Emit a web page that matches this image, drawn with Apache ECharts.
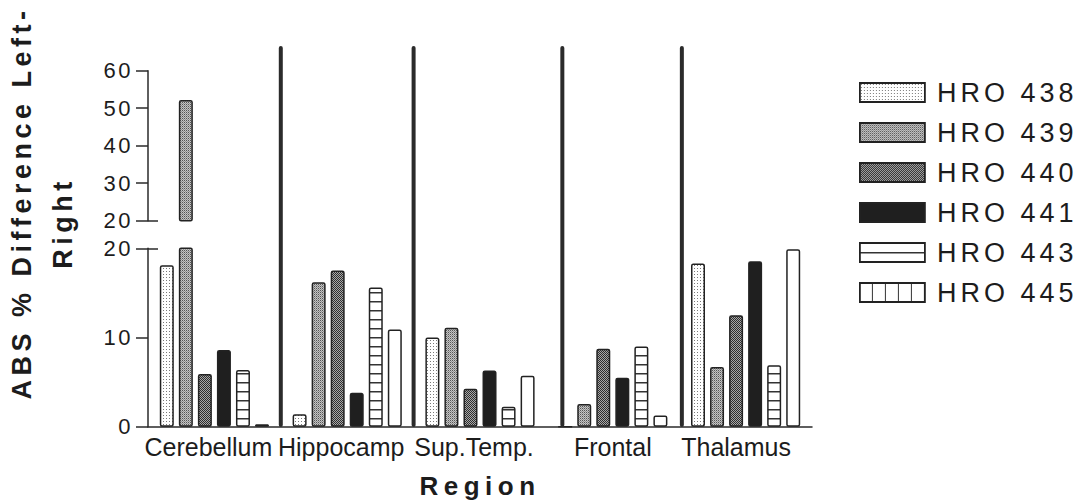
<!DOCTYPE html>
<html>
<head>
<meta charset="utf-8">
<script src="https://cdn.jsdelivr.net/npm/echarts@6/dist/echarts.min.js"></script>
<style>
html,body{margin:0;padding:0;background:#fff;}
#chart{width:1082px;height:503px;}
</style>
</head>
<body>
<div id="chart"></div>
<script>
// ---------------- data ----------------
const categories = ['Cerebellum', 'Hippocamp', 'Sup.Temp.', 'Frontal', 'Thalamus'];
const seriesNames = ['HRO 438', 'HRO 439', 'HRO 440', 'HRO 441', 'HRO 443', 'HRO 445'];
const hro438 = [18.1, 1.4, 10.0, 0, 18.3];
const hro439 = [52.2, 16.2, 11.1, 2.55, 6.7];
const hro440 = [5.9, 17.5, 4.25, 8.75, 12.5];
const hro441 = [8.6, 3.8, 6.3, 5.5, 18.55];
const hro443 = [6.35, 15.6, 2.25, 9.0, 6.9];
const hro445 = [0.27, 10.9, 5.7, 1.25, 19.9];
const lowerRange = [0, 20];
const upperRange = [20, 60];
const tickStep = 10;
const separatorPositions = [1.0, 2.0, 3.12, 4.02]; // in category units
const yTitleLines = ['ABS % Difference Left-', 'Right'];
const xTitle = 'Region';

const allValues = [hro438, hro439, hro440, hro441, hro443, hro445];

// ---------------- styles ----------------
function makePattern(w, h, draw) {
  const c = document.createElement('canvas');
  c.width = w; c.height = h;
  const ctx = c.getContext('2d');
  draw(ctx, w, h);
  return { image: c, repeat: 'repeat' };
}
const pat438 = makePattern(3, 3, (ctx, w, h) => {
  ctx.fillStyle = '#ffffff'; ctx.fillRect(0, 0, w, h);
  ctx.fillStyle = '#7a7a7a'; ctx.fillRect(1, 1, 1, 1);
});
const pat439 = makePattern(2, 2, (ctx, w, h) => {
  ctx.fillStyle = '#c4c4c4'; ctx.fillRect(0, 0, w, h);
  ctx.fillStyle = '#555555'; ctx.fillRect(0, 0, 1, 1);
  ctx.fillStyle = '#909090'; ctx.fillRect(1, 1, 1, 1);
});
const pat440 = makePattern(2, 2, (ctx, w, h) => {
  ctx.fillStyle = '#a8a8a8'; ctx.fillRect(0, 0, w, h);
  ctx.fillStyle = '#2e2e2e'; ctx.fillRect(0, 0, 1, 1); ctx.fillRect(1, 1, 1, 1);
});
const col441 = '#1f1f1f';
const pat443 = makePattern(8, 9, (ctx, w, h) => {
  ctx.fillStyle = '#ffffff'; ctx.fillRect(0, 0, w, h);
  ctx.fillStyle = '#333333'; ctx.fillRect(0, 4, w, 1.5);
});
const col445 = '#ffffff';
const barColors = [pat438, pat439, pat440, col441, pat443, col445];

const legPat443 = makePattern(8, 19, (ctx, w, h) => {
  ctx.fillStyle = '#ffffff'; ctx.fillRect(0, 0, w, h);
  ctx.fillStyle = '#333333'; ctx.fillRect(0, 9, w, 1.5);
});
const legPat445 = makePattern(13, 8, (ctx, w, h) => {
  ctx.fillStyle = '#ffffff'; ctx.fillRect(0, 0, w, h);
  ctx.fillStyle = '#333333'; ctx.fillRect(12, 0, 1.5, h);
});
const legendColors = [pat438, pat439, pat440, col441, legPat443, legPat445];

const FONT = '"Liberation Sans", Arial, sans-serif';
const INK = '#1c1c1c';
const axisLineStyle = { color: '#2a2a2a', width: 1.5 };

// per-label horizontal nudges (right padding shifts centred label left)
const labelPadRight = [12, 12, 12, 0, 19];
const labelRich = {};
labelPadRight.forEach((p, i) => {
  labelRich['c' + i] = { fontSize: 25, color: INK, fontFamily: FONT, padding: [0, p, 0, 0] };
});

// ---------------- option ----------------
const gridLeft = 148, gridRight = 270;
const series = [];
seriesNames.forEach((name, i) => {
  const itemStyle = { color: barColors[i], borderColor: '#222', borderWidth: 1.5, borderRadius: 1.5 };
  series.push({
    name, type: 'bar', xAxisIndex: 0, yAxisIndex: 0,
    data: allValues[i], barWidth: 14, barGap: '36%', itemStyle, clip: true
  });
  series.push({
    name, type: 'bar', xAxisIndex: 1, yAxisIndex: 1,
    data: allValues[i].map(v => (v > upperRange[0] ? v : '-')),
    barWidth: 14, barGap: '36%', itemStyle, clip: true
  });
});
series.push({
  type: 'custom', xAxisIndex: 2, yAxisIndex: 2, silent: true, z: 10,
  data: separatorPositions.map(x => [x, 1]),
  renderItem: (params, api) => {
    const x = api.value(0);
    const p0 = api.coord([x, 0]);
    const p1 = api.coord([x, api.value(1)]);
    return {
      type: 'line',
      shape: { x1: p0[0], y1: p0[1], x2: p1[0], y2: p1[1] },
      style: { stroke: '#2b2b2b', lineWidth: 4, lineCap: 'round' }
    };
  }
});

const valueAxisCommon = {
  type: 'value', interval: tickStep, position: 'left',
  axisLine: { show: true, lineStyle: axisLineStyle },
  axisTick: { show: true, length: 12, lineStyle: axisLineStyle },
  axisLabel: { fontSize: 22, color: INK, fontFamily: FONT, margin: 15 },
  splitLine: { show: false }
};
// small inner tick marks at the break (the "T" ends of the axis)
const breakTickAxis = {
  type: 'value', position: 'left',
  axisLine: { show: false },
  axisLabel: { show: false },
  splitLine: { show: false },
  axisTick: { show: true, inside: true, length: 10, lineStyle: axisLineStyle, customValues: [upperRange[0]] }
};

const option = {
  backgroundColor: '#ffffff',
  animation: false,
  grid: [
    { left: gridLeft, right: gridRight, top: 248.3, bottom: 76.3 },
    { left: gridLeft, right: gridRight, top: 70.7, height: 150 },
    { left: gridLeft, right: gridRight, top: 48, bottom: 78 }
  ],
  xAxis: [
    {
      gridIndex: 0, type: 'category', data: categories,
      axisLine: { lineStyle: axisLineStyle }, axisTick: { show: false },
      axisLabel: {
        fontSize: 25, color: INK, fontFamily: FONT, margin: 8, interval: 0,
        formatter: (value, index) => '{c' + index + '|' + value + '}',
        rich: labelRich
      },
      name: xTitle, nameLocation: 'middle', nameGap: 46,
      nameTextStyle: { fontSize: 26, fontWeight: 'bold', color: INK, fontFamily: FONT }
    },
    { gridIndex: 1, type: 'category', data: categories, show: false },
    { gridIndex: 2, type: 'value', min: 0, max: categories.length, show: false }
  ],
  yAxis: [
    Object.assign({ gridIndex: 0, min: lowerRange[0], max: lowerRange[1] }, valueAxisCommon),
    Object.assign({ gridIndex: 1, min: upperRange[0], max: upperRange[1] }, valueAxisCommon),
    { gridIndex: 2, type: 'value', min: 0, max: 1, show: false },
    Object.assign({ gridIndex: 0, min: lowerRange[0], max: lowerRange[1], interval: tickStep }, breakTickAxis),
    Object.assign({ gridIndex: 1, min: upperRange[0], max: upperRange[1], interval: tickStep }, breakTickAxis)
  ],
  legend: {
    orient: 'vertical', left: 859, top: 79, padding: 0,
    itemWidth: 65, itemHeight: 19, itemGap: 13, icon: 'rect',
    textStyle: { fontSize: 27, color: INK, fontFamily: FONT, padding: [0, 0, 0, 7] },
    data: seriesNames.map((n, i) => ({
      name: n,
      itemStyle: { color: legendColors[i], borderColor: '#222', borderWidth: 1.8 }
    }))
  },
  graphic: [
    {
      type: 'text', x: 22, y: 203, rotation: Math.PI / 2,
      style: { text: yTitleLines[0], font: 'bold 27px ' + FONT, fill: INK,
        align: 'center', verticalAlign: 'middle', textAlign: 'center', textVerticalAlign: 'middle' }
    },
    {
      type: 'text', x: 63, y: 223, rotation: Math.PI / 2,
      style: { text: yTitleLines[1], font: 'bold 27px ' + FONT, fill: INK,
        align: 'center', verticalAlign: 'middle', textAlign: 'center', textVerticalAlign: 'middle' }
    }
  ],
  series
};

const chart = echarts.init(document.getElementById('chart'), null, { renderer: 'svg' });
chart.setOption(option);

// letter spacing like the scanned original
function applySpacing() {
  document.querySelectorAll('#chart svg text').forEach(t => {
    const s = (t.textContent || '').trim();
    let sp = 0;
    if (categories.includes(s)) sp = 0;
    else if (/^\d+$/.test(s)) sp = 2.5;
    else if (seriesNames.includes(s)) sp = 4;
    else if (s === xTitle) sp = 5.5;
    else if (yTitleLines.includes(s)) sp = 4.5;
    if (sp) t.setAttribute('letter-spacing', sp + 'px');
  });
}
applySpacing();
chart.on('finished', applySpacing);
</script>
</body>
</html>
